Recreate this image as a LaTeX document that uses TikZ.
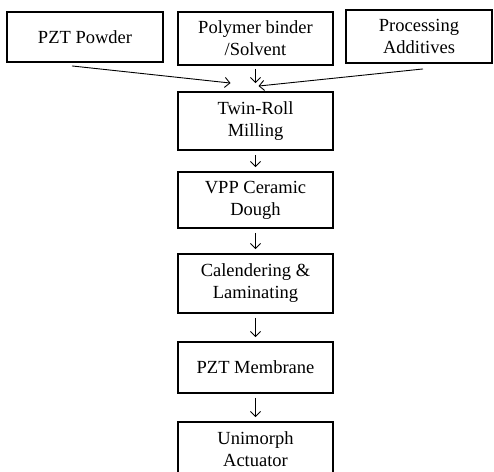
\documentclass[tikz,border=0pt]{standalone}
\usepackage{fontspec}
\usetikzlibrary{arrows.meta}
\setmainfont{Liberation Serif}
\begin{document}
\begin{tikzpicture}[x=1pt, y=-1pt, box/.style={draw, line width=1.9pt, inner sep=0pt, minimum width=155pt, align=center, font=\fontsize{18.5}{22}\selectfont}, flow/.style={-{Straight Barb[length=5pt,width=10pt]}, line width=0.9pt}]
  \useasboundingbox (0,0) rectangle (494,471);
  \clip (0,0) rectangle (494,471);
  \node[box, minimum width=156pt, minimum height=50pt] (powder) at (85,37) {PZT Powder};
  \node[box, minimum height=53pt] (binder) at (255.5,38.5) {Polymer binder\\/Solvent};
  \node[box, minimum width=146pt, minimum height=53pt] (additives) at (419,36.5) {Processing\\Additives};
  \node[box, minimum height=58pt] (milling) at (255.5,121) {Twin-Roll\\Milling};
  \node[box, minimum height=56pt] (dough) at (255.5,200) {VPP Ceramic\\Dough};
  \node[box, minimum height=59pt] (calender) at (255.5,283.5) {Calendering \&\\Laminating};
  \node[box, minimum height=51pt] (membrane) at (255.5,367.5) {PZT Membrane};
  \node[box, minimum height=54pt] (actuator) at (255.5,449) {Unimorph\\Actuator};
  \draw[flow] ([shift={(-13,3)}]powder.south) -- ([shift={(-25,-8)}]milling.north);
  \draw[flow] ([shift={(0,3)}]binder.south) -- ([shift={(0,-8)}]milling.north);
  \draw[flow] ([shift={(4,5)}]additives.south) -- ([shift={(3,-5)}]milling.north);
  \draw[flow] ([shift={(0,4)}]milling.south) -- ([shift={(0,-4)}]dough.north);
  \draw[flow] ([shift={(0,4)}]dough.south) -- ([shift={(0,-4)}]calender.north);
  \draw[flow] ([shift={(0,4)}]calender.south) -- ([shift={(0,-4)}]membrane.north);
  \draw[flow] ([shift={(0,4)}]membrane.south) -- ([shift={(0,-4)}]actuator.north);
\end{tikzpicture}
\end{document}
